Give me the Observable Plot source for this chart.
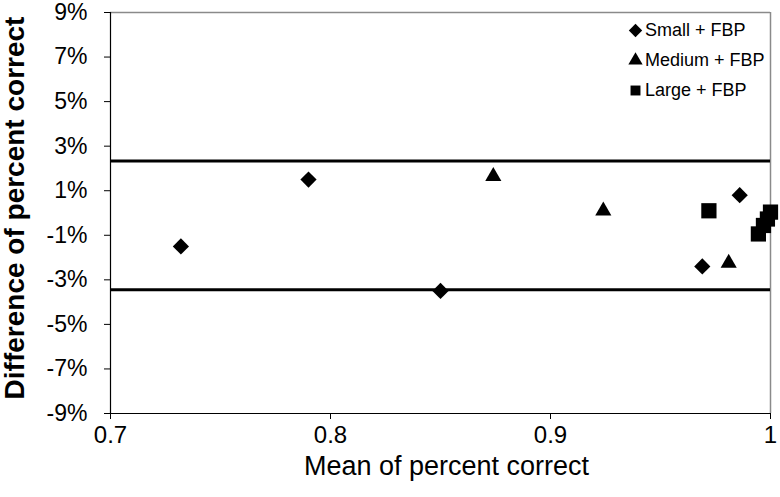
<!DOCTYPE html>
<html>
<head>
<meta charset="utf-8">
<script src="https://cdn.jsdelivr.net/npm/d3@7"></script>
<script src="https://cdn.jsdelivr.net/npm/@observablehq/plot@0.6"></script>
<style>
  html, body { margin: 0; padding: 0; background: #fff; }
  #wrap { position: relative; width: 780px; height: 497px; font-family: "Liberation Sans", Arial, sans-serif; }
  #legend { position: absolute; left: 627px; top: 15px; font-size: 18px; color: #000; line-height: 30px; }
  #legend .row { display: flex; align-items: center; height: 30px; }
  #legend svg { width: 17px; height: 17px; margin-right: 1px; }
</style>
</head>
<body>
<div id="wrap"></div>
<script>
// ---- data ----
const seriesNames = ["Small + FBP", "Medium + FBP", "Large + FBP"];
const smallX  = [0.732, 0.790, 0.850, 0.969, 0.986];
const smallY  = [-1.5, 1.5, -3.5, -2.4, 0.8];
const mediumX = [0.874, 0.924, 0.981];
const mediumY = [1.65, 0.1, -2.25];
const largeX  = [0.972, 0.9945, 0.9968, 0.9986, 1.0];
const largeY  = [0.1, -0.94, -0.56, -0.27, 0.04];
const limitsY = [2.33, -3.45];
const xTicks = [0.7, 0.8, 0.9, 1];
const yTicks = [-9, -7, -5, -3, -1, 1, 3, 5, 7, 9];
const xLabel = "Mean of percent correct";
const yLabel = "Difference of percent correct";

const toRows = (xs, ys) => xs.map((x, i) => ({x, y: ys[i]}));
const small = toRows(smallX, smallY);
const medium = toRows(mediumX, mediumY);
const large = toRows(largeX, largeY);

const chart = Plot.plot({
  width: 780,
  height: 497,
  marginLeft: 110,
  marginRight: 10,
  marginTop: 12,
  marginBottom: 84,
  style: {fontFamily: "'Liberation Sans', Arial, sans-serif", color: "#000", background: "#fff"},
  x: {domain: [xTicks[0], xTicks[xTicks.length - 1]]},
  y: {domain: [yTicks[0], yTicks[yTicks.length - 1]]},
  marks: [
    // gray top/right frame
    Plot.ruleY([yTicks[yTicks.length - 1]], {stroke: "#8a8a8a", strokeWidth: 1.5}),
    Plot.ruleX([xTicks[xTicks.length - 1]], {stroke: "#8a8a8a", strokeWidth: 1.5}),
    // axes
    Plot.axisY({ticks: yTicks, tickFormat: d => d + "%", tickSize: 6, tickPadding: 17, fontSize: 23, label: null}),
    Plot.axisX({ticks: xTicks, tickFormat: d => String(d), tickSize: 6, tickPadding: 6, fontSize: 24, label: null}),
    Plot.ruleX([xTicks[0]], {stroke: "#000", strokeWidth: 1.2}),
    Plot.ruleY([yTicks[0]], {stroke: "#000", strokeWidth: 1.2}),
    // limits of agreement
    Plot.ruleY(limitsY, {stroke: "#000", strokeWidth: 3}),
    // points
    Plot.dot(small, {x: "x", y: "y", symbol: "diamond2", r: 7.3, fill: "#000", stroke: "none"}),
    Plot.dot(medium, {x: "x", y: "y", symbol: "triangle", r: 6, fill: "#000", stroke: "none"}),
    Plot.dot(large, {x: "x", y: "y", symbol: "square", r: 8.6, fill: "#000", stroke: "none"}),
    // axis titles
    Plot.text([xLabel], {frameAnchor: "bottom", dy: 53, dx: 6, lineAnchor: "middle", textAnchor: "middle", fontSize: 27, text: d => d}),
    Plot.text([yLabel], {frameAnchor: "left", dx: -95, dy: -5, rotate: -90, lineAnchor: "middle", textAnchor: "middle", fontSize: 28, fontWeight: "bold", text: d => d})
  ]
});
const wrap = document.getElementById("wrap");
wrap.appendChild(chart);

// legend (inside plot area, as in the reference)
const legend = document.createElement("div");
legend.id = "legend";
const shapes = [d3.symbolDiamond2, d3.symbolTriangle, d3.symbolSquare];
const sizes = [6.0, 5.3, 5.6];
seriesNames.forEach((name, i) => {
  const row = document.createElement("div");
  row.className = "row";
  const sym = d3.symbol(shapes[i], Math.PI * sizes[i] * sizes[i]);
  row.innerHTML = `<svg viewBox="-8.5 -8.5 17 17"><path d="${sym()}" fill="#000"></path></svg><span>${name}</span>`;
  legend.appendChild(row);
});
wrap.appendChild(legend);
</script>
</body>
</html>
